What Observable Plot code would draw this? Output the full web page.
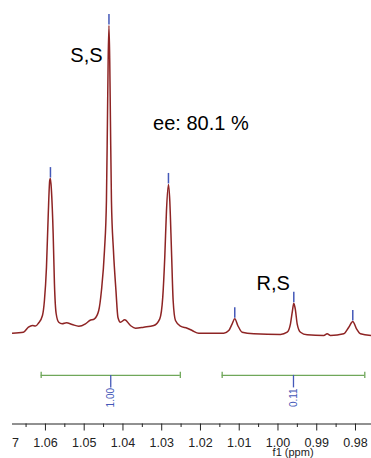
<!DOCTYPE html>
<html><head><meta charset="utf-8">
<script src="https://cdn.jsdelivr.net/npm/d3@7"></script>
<script src="https://cdn.jsdelivr.net/npm/@observablehq/plot@0.6"></script>
<style>body{margin:0;background:#fff}#chart svg{display:block}</style>
</head><body><div id="chart"></div>
<script>
// Spectrum trace: chemical shift (ppm) and intensity (tallest peak = 100)
const specPpm = [1.06852,1.06568,1.06439,1.06335,1.06258,1.06181,1.06077,1.06026,1.05974,1.0593,1.05889,1.05871,1.05845,1.05801,1.05768,1.05724,1.05657,1.05569,1.05458,1.05311,1.05141,1.04968,1.04857,1.04735,1.04625,1.04555,1.04477,1.04426,1.044,1.04382,1.04361,1.04341,1.04323,1.04297,1.04245,1.04181,1.04129,1.04065,1.03954,1.03806,1.03677,1.03463,1.03205,1.0305,1.02973,1.02921,1.02877,1.02826,1.02792,1.02748,1.02705,1.02645,1.02516,1.02343,1.02214,1.02044,1.01827,1.01399,1.0127,1.01182,1.01115,1.01037,1.00924,1.00625,0.99936,0.99763,0.99678,0.99626,0.99592,0.99548,0.99505,0.99419,0.99247,0.98818,0.98731,0.98645,0.98302,0.98173,0.9807,0.97974,0.97871,0.97587];
const specInt = [0.1,0.42,2.05,2.6,2.4,3.34,5.84,10.7,21.4,37.7,49.7,50.3,46.4,32.5,16.2,6.5,3.67,3.15,3.47,2.92,2.37,3.15,4.22,4.77,7.47,13.96,26.9,43.2,69.2,88.6,100,88.6,69.2,43.2,26.9,14,5.2,3.67,4.45,2.6,1.72,2.05,2.6,4.77,11.8,24.8,39.9,48.4,43.2,26.9,10.7,4.22,2.37,1.72,0.97,0.1,0.1,0.1,0.97,3.15,4.77,2.6,0.42,-0.1,-0.32,0.42,3.15,7.47,9.84,7.47,3.15,0.42,-0.42,-0.65,-0.1,-0.65,-0.1,2.05,3.9,1.53,-0.1,-0.65];

// Picked peaks
const peakPpm = [1.05871,1.04361,1.02826,1.01115,0.99592,0.9807];
const peakInt = [50.3,100,48.4,4.77,9.84,3.9];

// Integrals
const integralFrom = [1.0611, 1.0144];
const integralTo = [1.0252, 0.9776];
const integralValue = ["1.00", "0.11"];

// Axis ticks
const majorTicks = [1.07,1.06,1.05,1.04,1.03,1.02,1.01,1.00,0.99,0.98];
const minorTicks = [1.065,1.055,1.045,1.035,1.025,1.015,1.005,0.995,0.985];

// Annotations
const labelText = ["S,S", "ee: 80.1 %", "R,S"];
const labelPpm = [1.04942, 1.01988, 1.00125];
const labelInt = [90.1, 68.0, 16.2];

// ---- layout / style constants
const px = 1 / 3.08;            // one pixel in intensity units
const integralLevel = -13.6;
const axisLevel = -29.38;
const tickLabelLevel = -35.55;
const axisTitleLevel = -38.7;
const axisStart = 1.0685;
const red = "#8e2424", blue = "#4458b8", green = "#6fa75a";
const font = "'Liberation Sans', Arial, Helvetica, sans-serif";

const spectrum = specPpm.map((p, i) => ({ppm: p, v: specInt[i]}));
const peaks = peakPpm.map((p, i) => ({ppm: p, v: peakInt[i]}));
const integrals = integralFrom.map((f, i) => ({from: f, to: integralTo[i], mid: (f + integralTo[i]) / 2, value: integralValue[i]}));
const labels = labelText.map((t, i) => ({text: t, ppm: labelPpm[i], v: labelInt[i]}));
const fmt = d3.format(".2f");

const chart = Plot.plot({
  width: 371, height: 458,
  marginLeft: 12, marginRight: 0, marginTop: 0, marginBottom: 0,
  style: {fontFamily: font, background: "#fff", overflow: "visible"},
  x: {domain: [axisStart, 0.97587], axis: null},
  y: {domain: [-40.58, 108.12], axis: null},
  marks: [
    Plot.line(spectrum, {x: "ppm", y: "v", curve: "monotone-x", stroke: red, strokeWidth: 1.5, clip: true}),
    Plot.ruleX(peaks, {x: "ppm", y1: d => d.v + 0.5 * px, y2: d => d.v + 11 * px, stroke: blue, strokeWidth: 1.5}),
    // integrals
    Plot.ruleY(integrals, {x1: "from", x2: "to", y: integralLevel, stroke: green, strokeWidth: 1.3}),
    Plot.ruleX(integrals, {x: "from", y1: integralLevel - 3.2 * px, y2: integralLevel + 3.2 * px, stroke: green, strokeWidth: 1.3}),
    Plot.ruleX(integrals, {x: "to", y1: integralLevel - 3.2 * px, y2: integralLevel + 3.2 * px, stroke: green, strokeWidth: 1.3}),
    Plot.ruleX(integrals, {x: "mid", y1: integralLevel, y2: integralLevel - 12.5 * px, stroke: blue, strokeWidth: 1.3}),
    Plot.text(integrals, {x: "mid", y: integralLevel - 22.3 * px, text: "value", rotate: -90, fontSize: 10, fill: blue, textAnchor: "middle", lineAnchor: "middle"}),
    // axis
    Plot.ruleY([axisLevel], {x1: axisStart, x2: 0.97587, stroke: "#222", strokeWidth: 1}),
    Plot.ruleX(majorTicks, {x: d => d, y1: axisLevel, y2: axisLevel - 7 * px, stroke: "#222", strokeWidth: 1, clip: true}),
    Plot.ruleX(minorTicks, {x: d => d, y1: axisLevel, y2: axisLevel - 3.5 * px, stroke: "#222", strokeWidth: 1, clip: true}),
    Plot.text(majorTicks, {x: d => d, y: tickLabelLevel, text: d => fmt(d), fontSize: 12.5, fill: "#222", lineAnchor: "middle", clip: true}),
    Plot.text(["f1 (ppm)"], {x: 0.9961, y: axisTitleLevel, text: d => d, fontSize: 11, fill: "#222", lineAnchor: "middle"}),
    // annotations
    Plot.text(labels, {x: "ppm", y: "v", text: "text", fontSize: 20, fill: "#000", lineAnchor: "middle"})
  ]
});
document.getElementById("chart").append(chart);
</script>
</body></html>
